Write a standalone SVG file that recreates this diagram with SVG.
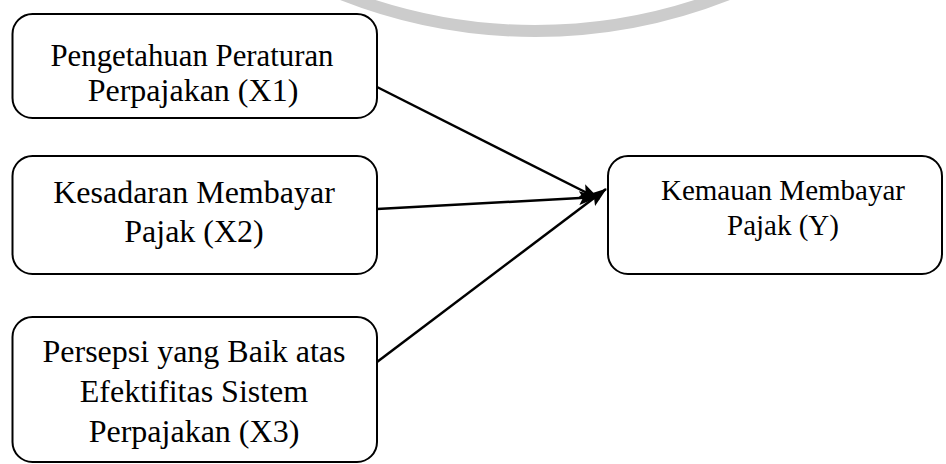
<svg xmlns="http://www.w3.org/2000/svg" width="946" height="464" viewBox="0 0 946 464">
<defs>
<style>
.box{fill:#ffffff;stroke:#000000;stroke-width:2}
.t{font-family:"Liberation Serif","Times New Roman",serif;font-size:32px;fill:#000000;text-anchor:middle}
.ty{font-family:"Liberation Serif","Times New Roman",serif;font-size:29px;fill:#000000;text-anchor:middle}
.edge{stroke:#000000;stroke-width:2.5;fill:none;marker-end:url(#ah)}
</style>
<marker id="ah" viewBox="0 0 20 14" refX="19" refY="7" markerWidth="20" markerHeight="14" markerUnits="userSpaceOnUse" orient="auto">
<path d="M0,0 L20,7 L0,14 L4,7 z" fill="#000000"/>
</marker>
</defs>
<rect width="946" height="464" fill="#ffffff"/>
<circle cx="535" cy="-495" r="526" fill="none" stroke="#cccccc" stroke-width="12"/>
<g id="connectors">
<line class="edge" x1="377" y1="87" x2="599" y2="199"/>
<line class="edge" x1="377" y1="209" x2="598" y2="197"/>
<line class="edge" x1="377" y1="362" x2="606" y2="189"/>
</g>
<g id="x1">
<rect class="box" x="12.5" y="14" width="364.5" height="104" rx="20"/>
<text class="t" x="192" y="66" textLength="283" lengthAdjust="spacingAndGlyphs">Pengetahuan Peraturan</text>
<text class="t" x="193" y="101">Perpajakan (X1)</text>
</g>
<g id="x2">
<rect class="box" x="12.5" y="156" width="364.5" height="118" rx="20"/>
<text class="t" x="194" y="203">Kesadaran Membayar</text>
<text class="t" x="194" y="242">Pajak (X2)</text>
</g>
<g id="x3">
<rect class="box" x="12.5" y="317" width="364.5" height="145" rx="20"/>
<text class="t" x="194" y="362">Persepsi yang Baik atas</text>
<text class="t" x="194" y="402">Efektifitas Sistem</text>
<text class="t" x="194" y="442">Perpajakan (X3)</text>
</g>
<g id="y">
<rect class="box" x="608" y="156" width="334" height="118" rx="20"/>
<text class="ty" x="783" y="200">Kemauan Membayar</text>
<text class="ty" x="783" y="235">Pajak (Y)</text>
</g>
</svg>
